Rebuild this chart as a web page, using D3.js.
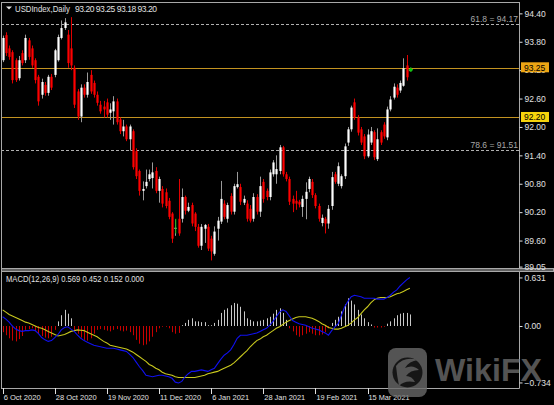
<!DOCTYPE html>
<html lang="en"><head>
<meta charset="utf-8">
<title>USDIndex Daily</title>
<script src="https://cdnjs.cloudflare.com/ajax/libs/d3/7.8.5/d3.min.js"></script>
<style>
  body { margin: 0; background: #000; }
  svg { display: block; font-family: "Liberation Sans", Arial, sans-serif; }
</style>
</head>
<body>
<svg width="554" height="405"></svg>
<script>

// daily candles, 6 Oct 2020 .. 26 Mar 2021
var opens = [
  93.41, 93.94, 93.66, 93.58, 93.41, 93.03, 93.56, 93.41, 93.83, 93.66,
  93.41, 93.06, 92.68, 92.89, 92.72, 93.06, 93.10, 93.41, 93.88, 94.09,
  93.95, 93.66, 93.25, 92.75, 92.22, 92.83, 92.68, 93.10, 92.93, 92.68,
  92.47, 92.43, 92.52, 92.30, 92.33, 92.54, 92.16, 91.91, 92.01, 91.74,
  91.91, 91.49, 91.07, 90.65, 90.75, 90.90, 90.92, 91.07, 90.65, 90.69,
  90.62, 90.44, 90.17, 89.85, 90.06, 90.06, 90.52, 90.23, 90.35, 90.17,
  89.89, 89.49, 89.85, 89.89, 89.64, 89.32, 89.85, 90.00, 90.38, 90.06,
  90.54, 90.21, 90.73, 90.73, 90.40, 90.38, 90.27, 90.06, 90.52, 90.21,
  90.84, 90.65, 90.52, 91.00, 91.00, 91.07, 91.57, 91.00, 90.90, 90.48,
  90.44, 90.42, 90.31, 90.48, 90.69, 90.84, 90.56, 90.33, 89.97, 90.06,
  89.96, 90.33, 91.00, 90.80, 90.75, 90.96, 91.67, 91.95, 92.52, 92.20,
  91.95, 91.80, 91.38, 91.67, 91.89, 91.32, 91.89, 92.05, 91.78, 92.37,
  92.62, 92.83, 92.77, 92.87, 93.30, 93.20];
var highs = [
  93.93, 94.00, 93.72, 93.62, 93.45, 93.50, 93.62, 93.95, 93.88, 93.72,
  93.45, 93.10, 93.02, 92.95, 93.10, 93.12, 93.65, 93.95, 94.25, 94.30,
  94.05, 94.32, 93.30, 92.80, 92.90, 92.90, 93.15, 93.20, 92.98, 92.75,
  92.55, 92.55, 92.60, 92.50, 92.65, 92.60, 92.20, 92.15, 92.05, 92.05,
  91.95, 91.55, 91.10, 90.85, 91.10, 91.10, 91.25, 91.15, 90.95, 90.75,
  90.70, 90.50, 90.20, 90.05, 90.90, 90.70, 90.55, 90.40, 90.40, 90.20,
  89.95, 89.95, 89.95, 89.95, 89.70, 89.90, 90.10, 90.86, 90.45, 90.40,
  90.60, 90.80, 91.05, 90.80, 90.55, 90.45, 90.35, 90.60, 90.58, 90.95,
  90.90, 90.70, 91.10, 91.30, 91.40, 91.62, 91.60, 91.05, 90.95, 90.55,
  90.65, 90.46, 90.55, 90.83, 90.95, 90.90, 90.60, 90.38, 90.15, 90.10,
  90.35, 91.05, 91.05, 91.25, 91.00, 91.65, 92.00, 92.45, 92.60, 92.25,
  92.00, 91.85, 91.95, 92.00, 91.93, 91.97, 91.93, 92.10, 92.43, 92.65,
  92.92, 92.90, 92.98, 93.45, 93.52, 93.25];
var lows = [
  93.37, 93.50, 93.42, 92.92, 92.95, 92.98, 93.30, 93.35, 93.42, 93.25,
  92.92, 92.45, 92.60, 92.66, 92.66, 92.78, 93.05, 93.38, 93.85, 94.05,
  93.25, 93.20, 92.40, 92.15, 92.10, 92.62, 92.62, 92.70, 92.62, 92.45,
  92.28, 92.20, 92.20, 92.15, 92.05, 92.05, 91.85, 91.80, 91.70, 91.50,
  91.10, 90.90, 90.55, 90.45, 90.70, 90.85, 90.70, 90.60, 90.40, 90.30,
  90.28, 90.05, 89.55, 89.70, 89.70, 89.98, 90.15, 90.20, 89.90, 89.80,
  89.45, 89.40, 89.55, 89.38, 89.18, 89.28, 89.60, 89.95, 90.05, 89.98,
  90.15, 90.15, 90.70, 90.35, 90.35, 90.00, 89.98, 90.00, 90.15, 90.10,
  90.40, 90.45, 90.45, 90.95, 90.80, 91.00, 90.95, 90.85, 90.35, 90.20,
  90.25, 90.30, 90.10, 90.05, 90.62, 90.50, 90.28, 90.00, 89.90, 89.75,
  89.85, 90.25, 90.80, 90.75, 90.70, 90.90, 91.60, 91.90, 92.15, 91.82,
  91.62, 91.32, 91.35, 91.62, 91.30, 91.28, 91.62, 91.75, 91.72, 92.33,
  92.58, 92.62, 92.72, 92.85, 92.98, 93.18];
var closes = [
  93.88, 93.56, 93.48, 92.99, 92.99, 93.41, 93.35, 93.88, 93.48, 93.30,
  92.99, 92.54, 92.95, 92.72, 93.06, 92.83, 93.62, 93.90, 94.09, 94.21,
  93.35, 93.30, 92.47, 92.22, 92.83, 92.68, 92.95, 92.75, 92.68, 92.51,
  92.33, 92.37, 92.26, 92.37, 92.54, 92.10, 91.91, 92.01, 91.74, 92.01,
  91.15, 90.96, 90.65, 90.69, 90.84, 91.00, 91.04, 90.65, 90.90, 90.38,
  90.33, 90.10, 89.64, 89.87, 89.75, 90.52, 90.23, 90.31, 89.96, 89.89,
  89.49, 89.89, 89.93, 89.43, 89.37, 89.79, 90.02, 90.48, 90.10, 90.35,
  90.21, 90.75, 90.79, 90.42, 90.48, 90.06, 90.02, 90.52, 90.21, 90.75,
  90.48, 90.52, 91.04, 91.25, 91.11, 91.57, 91.00, 90.90, 90.42, 90.38,
  90.38, 90.36, 90.48, 90.63, 90.90, 90.56, 90.33, 90.06, 90.08, 89.96,
  90.27, 90.94, 90.84, 91.17, 90.96, 91.59, 91.95, 92.41, 92.20, 91.88,
  91.67, 91.38, 91.84, 91.91, 91.36, 91.74, 91.67, 91.80, 92.37, 92.58,
  92.85, 92.68, 92.93, 93.24, 93.05, 93.20];

// MACD(12,26,9) sub window
var macdLine = [
  0.12, 0.09, 0.05, 0.00, -0.04, -0.06, -0.07, -0.06, -0.06, -0.05,
  -0.06, -0.10, -0.15, -0.18, -0.20, -0.19, -0.15, -0.11, -0.05, -0.02,
  -0.01, -0.04, -0.07, -0.12, -0.16, -0.19, -0.21, -0.23, -0.25, -0.26,
  -0.27, -0.28, -0.29, -0.29, -0.29, -0.30, -0.31, -0.32, -0.33, -0.37,
  -0.41, -0.47, -0.53, -0.58, -0.64, -0.65, -0.66, -0.65, -0.64, -0.64,
  -0.65, -0.66, -0.68, -0.73, -0.74, -0.72, -0.66, -0.62, -0.59, -0.59,
  -0.58, -0.57, -0.58, -0.59, -0.57, -0.55, -0.49, -0.43, -0.38, -0.35,
  -0.31, -0.24, -0.16, -0.12, -0.12, -0.12, -0.11, -0.10, -0.09, -0.07,
  -0.05, -0.03, 0.01, 0.06, 0.12, 0.18, 0.21, 0.19, 0.13, 0.07,
  0.05, 0.03, 0.02, 0.01, -0.01, -0.03, -0.04, -0.05, -0.07, -0.09,
  -0.12, -0.06, -0.01, 0.03, 0.14, 0.25, 0.32, 0.38, 0.40, 0.39,
  0.38, 0.36, 0.36, 0.36, 0.36, 0.35, 0.35, 0.35, 0.37, 0.40,
  0.44, 0.47, 0.52, 0.56, 0.60, 0.63];
var signalLine = [
  0.21, 0.18, 0.15, 0.13, 0.11, 0.09, 0.07, 0.05, 0.04, 0.02,
  0.00, -0.02, -0.03, -0.05, -0.07, -0.09, -0.11, -0.13, -0.12, -0.11,
  -0.09, -0.07, -0.06, -0.05, -0.055, -0.06, -0.08, -0.10, -0.12, -0.14,
  -0.17, -0.20, -0.22, -0.25, -0.26, -0.27, -0.28, -0.29, -0.30, -0.32,
  -0.34, -0.37, -0.40, -0.43, -0.46, -0.50, -0.52, -0.55, -0.57, -0.60,
  -0.62, -0.63, -0.64, -0.66, -0.67, -0.67, -0.67, -0.67, -0.67, -0.67,
  -0.66, -0.65, -0.64, -0.62, -0.61, -0.60, -0.59, -0.57, -0.55, -0.53,
  -0.51, -0.48, -0.44, -0.40, -0.36, -0.32, -0.27, -0.23, -0.19, -0.17,
  -0.14, -0.12, -0.09, -0.06, -0.03, -0.01, 0.02, 0.05, 0.07, 0.09,
  0.11, 0.12, 0.12, 0.12, 0.11, 0.10, 0.08, 0.06, 0.03, 0.01,
  -0.02, -0.03, -0.04, -0.04, -0.03, -0.01, 0.01, 0.04, 0.08, 0.11,
  0.16, 0.21, 0.25, 0.30, 0.34, 0.36, 0.37, 0.37, 0.37, 0.38,
  0.40, 0.42, 0.43, 0.45, 0.47, 0.49];
var histogram = [
  -0.08, -0.12, -0.16, -0.19, -0.20, -0.17, -0.13, -0.05, -0.04, -0.03,
  -0.07, -0.10, -0.13, -0.15, -0.16, -0.14, -0.05, 0.06, 0.14, 0.21,
  0.16, 0.10, -0.05, -0.10, -0.15, -0.18, -0.19, -0.16, -0.10, -0.05,
  -0.04, -0.05, -0.06, -0.07, -0.05, -0.04, -0.06, -0.07, -0.06, -0.08,
  -0.12, -0.18, -0.23, -0.25, -0.24, -0.20, -0.14, -0.08, -0.03, -0.01,
  -0.01, -0.03, -0.08, -0.10, -0.09, 0.01, 0.04, 0.08, 0.10, 0.06,
  0.06, 0.05, 0.05, 0.01, 0.01, 0.04, 0.08, 0.17, 0.21, 0.23,
  0.27, 0.30, 0.29, 0.25, 0.19, 0.10, 0.08, 0.06, 0.06, 0.07,
  0.08, 0.10, 0.12, 0.16, 0.21, 0.23, 0.17, 0.08, -0.03, -0.07,
  -0.12, -0.14, -0.12, -0.10, -0.08, -0.10, -0.12, -0.12, -0.11, -0.08,
  -0.03, 0.04, 0.08, 0.12, 0.19, 0.28, 0.36, 0.33, 0.28, 0.21,
  0.15, 0.10, 0.05, 0.02, -0.02, -0.02, -0.02, -0.01, 0.03, 0.06,
  0.10, 0.14, 0.16, 0.17, 0.17, 0.15];

var dateLabels = ["6 Oct 2020", "28 Oct 2020", "19 Nov 2020", "11 Dec 2020",
                  "6 Jan 2021", "28 Jan 2021", "19 Feb 2021", "15 Mar 2021"];
var dateIndex = [0, 16, 32, 48, 64, 80, 96, 112];
var priceTicks = [94.40, 93.80, 93.20, 92.60, 92.00, 91.40, 90.80, 90.20, 89.60, 89.05];
var levelPrices = [93.25, 92.20];
var fibRatios = ["61.8", "78.6"];
var fibPrices = [94.17, 91.51];
var macdTicks = [0.631, 0, -0.734];

var svg = d3.select("svg"),
    width = +svg.attr("width"),
    height = +svg.attr("height");

var left = 1, right = 519;
var priceTop = 2, priceBottom = 268, macdTop = 272, macdBottom = 388;
var frameColor = "#a8a8a8", textColor = "#e0e0e0";

svg.append("rect").attr("width", width).attr("height", height).attr("fill", "#000");

var x = d3.scaleBand().domain(d3.range(159)).range([left, right]).padding(0);
var cx = function(i) { return x(i) + x.bandwidth() / 2; };
var y = d3.scaleLinear().domain([89.02, 94.64]).range([priceBottom, priceTop]);
var ym = d3.scaleLinear().domain([-0.806, 0.702]).range([macdBottom, macdTop]);

var defs = svg.append("defs");
defs.append("clipPath").attr("id", "clipPrice").append("rect")
  .attr("x", left).attr("y", priceTop).attr("width", right - left).attr("height", priceBottom - priceTop);
defs.append("clipPath").attr("id", "clipMacd").append("rect")
  .attr("x", left).attr("y", macdTop).attr("width", right - left).attr("height", macdBottom - macdTop);

var idx = d3.range(closes.length);

// ---- price window ----
var pg = svg.append("g").attr("clip-path", "url(#clipPrice)");

// fibo levels
pg.selectAll(".fib").data(fibPrices).enter().append("line")
  .attr("x1", left).attr("x2", right)
  .attr("y1", function(d) { return Math.round(y(d)) + 0.5; })
  .attr("y2", function(d) { return Math.round(y(d)) + 0.5; })
  .attr("stroke", "#b0b0b0").attr("stroke-dasharray", "3,2").attr("stroke-width", 1);
pg.selectAll(".fibtxt").data(fibPrices).enter().append("text")
  .attr("x", right - 1).attr("y", function(d) { return y(d) - 2.5; })
  .attr("text-anchor", "end").attr("font-size", "8.5px").attr("fill", "#a8a8a8")
  .text(function(d, i) { return fibRatios[i] + " = " + d3.format(".2f")(d); });

// horizontal levels
pg.selectAll(".lvl").data(levelPrices).enter().append("line")
  .attr("x1", left).attr("x2", right)
  .attr("y1", function(d) { return Math.round(y(d)) + 0.5; })
  .attr("y2", function(d) { return Math.round(y(d)) + 0.5; })
  .attr("stroke", "#c39321").attr("stroke-width", 1);

// candles
var bull = function(i) { return closes[i] >= opens[i]; };
pg.selectAll(".wick").data(idx).enter().append("line")
  .attr("x1", function(i) { return Math.round(cx(i)) + 0.5; })
  .attr("x2", function(i) { return Math.round(cx(i)) + 0.5; })
  .attr("y1", function(i) { return y(highs[i]); })
  .attr("y2", function(i) { return y(lows[i]); })
  .attr("stroke", function(i) { return bull(i) ? "#9a9a9a" : "#e00000"; })
  .attr("stroke-width", 1);
pg.selectAll(".body").data(idx).enter().append("rect")
  .attr("x", function(i) { return Math.round(cx(i)) - 0.6; })
  .attr("width", 2.2)
  .attr("y", function(i) { return y(Math.max(opens[i], closes[i])); })
  .attr("height", function(i) { return Math.max(1, Math.abs(y(opens[i]) - y(closes[i]))); })
  .attr("fill", function(i) { return bull(i) ? "#ffffff" : "#ff0000"; });

// small green markers
pg.append("line")
  .attr("x1", cx(53) + 0.5).attr("x2", cx(53) + 0.5)
  .attr("y1", y(90.06)).attr("y2", y(89.75))
  .attr("stroke", "#00b400");
pg.append("path")
  .attr("d", d3.symbol().type(d3.symbolCross).size(10)())
  .attr("transform", "translate(" + (cx(125) + 1) + "," + y(93.21) + ")")
  .attr("fill", "#00c800");

// ---- MACD window ----
var mg = svg.append("g").attr("clip-path", "url(#clipMacd)");
mg.selectAll(".hist").data(idx).enter().append("line")
  .attr("x1", function(i) { return Math.round(cx(i)) + 0.5; })
  .attr("x2", function(i) { return Math.round(cx(i)) + 0.5; })
  .attr("y1", ym(0))
  .attr("y2", function(i) { return ym(histogram[i]); })
  .attr("stroke", function(i) { return histogram[i] >= 0 ? "#c8c8c8" : "#c80000"; })
  .attr("stroke-width", 1);

var lineGen = function(arr) {
  return d3.line().x(function(i) { return cx(i); }).y(function(i) { return ym(arr[i]); })(idx);
};
mg.append("path").attr("d", lineGen(signalLine))
  .attr("fill", "none").attr("stroke", "#c8c81e").attr("stroke-width", 1.1);
mg.append("path").attr("d", lineGen(macdLine))
  .attr("fill", "none").attr("stroke", "#1010f0").attr("stroke-width", 1.1);

// ---- frames ----
var frame = svg.append("g").attr("fill", "none").attr("stroke", frameColor).attr("stroke-width", 1);
frame.append("line").attr("x1", left + 0.5).attr("x2", left + 0.5).attr("y1", priceTop).attr("y2", macdBottom + 0.5);
frame.append("line").attr("x1", left).attr("x2", right + 0.5).attr("y1", priceTop + 0.5).attr("y2", priceTop + 0.5);
frame.append("line").attr("x1", right + 0.5).attr("x2", right + 0.5).attr("y1", priceTop).attr("y2", macdBottom + 0.5);
frame.append("rect").attr("x", left + 0.5).attr("y", priceBottom + 0.5)
  .attr("width", width - left - 1).attr("height", 3).attr("fill", "#606060");
frame.append("line").attr("x1", left).attr("x2", right + 0.5).attr("y1", macdBottom + 0.5).attr("y2", macdBottom + 0.5);

// ---- price axis ----
var yAxis = d3.axisRight(y).tickValues(priceTicks).tickSize(3).tickPadding(2)
  .tickFormat(d3.format(".2f"));
var ya = svg.append("g").attr("transform", "translate(" + (right + 0.5) + ",0)").call(yAxis);
ya.select(".domain").remove();
ya.selectAll("line").attr("stroke", textColor);
ya.selectAll("text").attr("fill", textColor).attr("font-size", "8.5px")
  .attr("font-family", "Liberation Sans, Arial, sans-serif");

// level price tags (they sit over the axis, as in the terminal)
var tagColors = ["#eca514", "#f6d40c"];
var tags = svg.selectAll(".tag").data(levelPrices).enter().append("g");
tags.append("rect")
  .attr("x", right + 2).attr("width", 28)
  .attr("y", function(d) { return y(d) - 5.5; }).attr("height", 10)
  .attr("fill", function(d, i) { return tagColors[i]; });
tags.append("text")
  .attr("x", right + 5).attr("y", function(d) { return y(d) + 3; })
  .attr("font-size", "8.5px").attr("fill", "#000")
  .text(function(d) { return d3.format(".2f")(d); });

// ---- MACD axis ----
var mAxis = d3.axisRight(ym).tickValues(macdTicks).tickSize(3).tickPadding(2)
  .tickFormat(function(d) { return d === 0 ? "0.00" : d3.format(".3f")(d); });
var ma = svg.append("g").attr("transform", "translate(" + (right + 0.5) + ",0)").call(mAxis);
ma.select(".domain").remove();
ma.selectAll("line").attr("stroke", textColor);
ma.selectAll("text").attr("fill", textColor).attr("font-size", "8.5px")
  .attr("font-family", "Liberation Sans, Arial, sans-serif");

// ---- date axis ----
var xa = svg.append("g");
xa.selectAll(".dt").data(dateIndex).enter().append("line")
  .attr("x1", function(d) { return Math.round(cx(d)) + 0.5; })
  .attr("x2", function(d) { return Math.round(cx(d)) + 0.5; })
  .attr("y1", macdBottom).attr("y2", macdBottom + 6)
  .attr("stroke", textColor);
xa.selectAll(".dl").data(dateIndex).enter().append("text")
  .attr("x", function(d) { return cx(d) + 1; })
  .attr("y", macdBottom + 12)
  .attr("font-size", "8px").attr("fill", textColor)
  .attr("textLength", function(d, i) { return dateLabels[i].length === 10 ? 37 : 41; })
  .attr("lengthAdjust", "spacingAndGlyphs")
  .text(function(d, i) { return dateLabels[i]; });

// ---- titles ----
svg.append("path").attr("d", "M6,6.5L12,6.5L9,9.5Z").attr("fill", textColor);
var last = closes.length - 1, f2 = d3.format(".2f");
svg.append("text").attr("x", 15).attr("y", 11.5)
  .attr("font-size", "8.5px").attr("fill", textColor)
  .attr("textLength", 55).attr("lengthAdjust", "spacingAndGlyphs")
  .text("USDIndex,Daily");
svg.append("text").attr("x", 75).attr("y", 11.5)
  .attr("font-size", "8.5px").attr("fill", textColor)
  .attr("textLength", 82).attr("lengthAdjust", "spacing")
  .text(f2(opens[last]) + " " + f2(highs[last]) + " " + f2(lows[last]) + " " + f2(closes[last]));
svg.append("text").attr("x", 6).attr("y", 282)
  .attr("font-size", "8.5px").attr("fill", textColor)
  .attr("textLength", 138).attr("lengthAdjust", "spacingAndGlyphs")
  .text("MACD(12,26,9) 0.569 0.452 0.152 0.000");

// ---- watermark ----
var wm = svg.append("g").attr("opacity", 0.8);
wm.append("rect").attr("x", 388).attr("y", 348).attr("width", 39).attr("height", 49)
  .attr("rx", 8).attr("fill", "#6a6a6a");
wm.append("circle").attr("cx", 407.5).attr("cy", 372.5).attr("r", 15).attr("fill", "#1c1c1c");
wm.append("path")
  .attr("d", "M396,366 Q404,356 418,360 Q409,361 405,368 Q413,364 419,370 Q410,370 406,376 Q412,376 415,382 Q404,380 399,386 Q397,376 396,366Z")
  .attr("fill", "#6a6a6a");
wm.append("text").attr("x", 435).attr("y", 381)
  .attr("font-size", "32px").attr("font-weight", "bold").attr("fill", "#6a6a6a")
  .attr("textLength", 107).attr("lengthAdjust", "spacingAndGlyphs")
  .text("WikiFX");

</script>
</body>
</html>
